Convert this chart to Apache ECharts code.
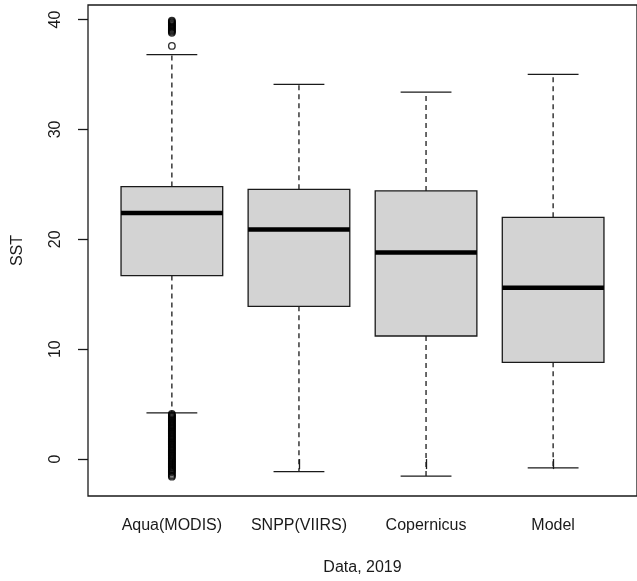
<!DOCTYPE html>
<html>
<head>
<meta charset="utf-8">
<script src="https://cdn.jsdelivr.net/npm/echarts@6/dist/echarts.min.js"></script>
<style>
  html, body { margin: 0; padding: 0; background: #fff; }
  #chart { width: 637px; height: 581px; }
</style>
</head>
<body>
<div id="chart"></div>
<script>
// box statistics
const categories = ['Aqua(MODIS)', 'SNPP(VIIRS)', 'Copernicus', 'Model'];
const lowerWhisker = [4.2, -1.15, -1.55, -0.8];
const q1 = [16.7, 13.9, 11.2, 8.8];
const median = [22.4, 20.9, 18.8, 15.6];
const q3 = [24.8, 24.55, 24.4, 22.0];
const upperWhisker = [36.8, 34.1, 33.4, 35.0];

// outliers (only Aqua has them) - the dense runs look like solid bars
const aquaHighOutliers = [37.6, 38.8, 38.9, 39.0, 39.1, 39.2, 39.3, 39.4, 39.5, 39.6, 39.7, 39.8, 39.9];
const aquaLowOutliers = [4.1, 4.0, 3.9, 3.8, 3.7, 3.6, 3.5, 3.4, 3.3, 3.2, 3.1, 3.0, 2.9, 2.8, 2.7, 2.6,
  2.5, 2.4, 2.3, 2.2, 2.1, 2.0, 1.9, 1.8, 1.7, 1.6, 1.5, 1.4, 1.3, 1.2, 1.1, 1.0, 0.9, 0.8, 0.7, 0.6,
  0.5, 0.4, 0.3, 0.2, 0.1, 0.0, -0.1, -0.2, -0.3, -0.4, -0.5, -0.6, -0.7, -0.8, -0.9, -1.0, -1.1,
  -1.2, -1.35, -1.5, -1.6];

const yTicks = [0, 10, 20, 30, 40];
const xTicks = [1, 2, 3, 4];

const FONT = "'Liberation Sans', Arial, sans-serif";

var boxData = categories.map(function (c, i) {
  return [i + 1, lowerWhisker[i], q1[i], median[i], q3[i], upperWhisker[i]];
});
var outlierData = aquaHighOutliers.concat(aquaLowOutliers).map(function (v) {
  return [1, v];
});

function renderBox(params, api) {
  var x = api.value(0);
  var half = api.size([0.4, 0])[0];
  var capHalf = api.size([0.2, 0])[0];
  var pLw = api.coord([x, api.value(1)]);
  var pQ1 = api.coord([x, api.value(2)]);
  var pMed = api.coord([x, api.value(3)]);
  var pQ3 = api.coord([x, api.value(4)]);
  var pUw = api.coord([x, api.value(5)]);
  var cx = pQ1[0];
  var dark = '#1a1a1a';
  return {
    type: 'group',
    children: [
      // whiskers (dashed)
      { type: 'line', shape: { x1: cx, y1: pQ3[1], x2: cx, y2: pUw[1] },
        style: { stroke: dark, lineWidth: 1.3, lineDash: [5, 4] } },
      { type: 'line', shape: { x1: cx, y1: pQ1[1], x2: cx, y2: pLw[1] },
        style: { stroke: dark, lineWidth: 1.3, lineDash: [5, 4] } },
      // staples
      { type: 'line', shape: { x1: cx - capHalf, y1: pUw[1], x2: cx + capHalf, y2: pUw[1] },
        style: { stroke: dark, lineWidth: 1.3 } },
      { type: 'line', shape: { x1: cx - capHalf, y1: pLw[1], x2: cx + capHalf, y2: pLw[1] },
        style: { stroke: dark, lineWidth: 1.3 } },
      // box
      { type: 'rect', shape: { x: cx - half, y: pQ3[1], width: half * 2, height: pQ1[1] - pQ3[1] },
        style: { fill: '#d3d3d3', stroke: dark, lineWidth: 1.3 } },
      // median
      { type: 'line', shape: { x1: cx - half, y1: pMed[1], x2: cx + half, y2: pMed[1] },
        style: { stroke: '#000', lineWidth: 4.5 } }
    ]
  };
}

var chart = echarts.init(document.getElementById('chart'), null, { renderer: 'canvas' });

chart.setOption({
  backgroundColor: '#fff',
  animation: false,
  grid: {
    left: 88, top: 5, right: -5, bottom: 84,
    show: true, borderColor: '#1a1a1a', borderWidth: 1.3, backgroundColor: 'transparent'
  },
  xAxis: {
    type: 'value',
    min: 0.34, max: 4.66,
    name: 'Data, 2019',
    nameLocation: 'middle',
    nameGap: 64,
    nameTextStyle: { fontFamily: FONT, fontSize: 16, color: '#1a1a1a' },
    axisLine: { show: false },
    splitLine: { show: false },
    axisTick: { show: true, length: 10, customValues: xTicks, lineStyle: { color: '#1a1a1a', width: 1.3 } },
    axisLabel: {
      customValues: xTicks,
      margin: 22,
      fontFamily: FONT, fontSize: 16, color: '#1a1a1a',
      formatter: function (v) { return categories[Math.round(v) - 1] || ''; }
    }
  },
  yAxis: {
    type: 'value',
    min: -3.36, max: 41.32,
    name: 'SST',
    nameLocation: 'middle',
    nameGap: 62,
    nameTextStyle: { fontFamily: FONT, fontSize: 16, color: '#1a1a1a' },
    axisLine: { show: false },
    splitLine: { show: false },
    axisTick: { show: true, length: 10, customValues: yTicks, lineStyle: { color: '#1a1a1a', width: 1.3 } },
    axisLabel: {
      customValues: yTicks,
      rotate: 90,
      margin: 24,
      fontFamily: FONT, fontSize: 16, color: '#1a1a1a'
    }
  },
  series: [
    {
      type: 'custom',
      renderItem: renderBox,
      data: boxData,
      encode: { x: 0, y: [1, 2, 3, 4, 5] },
      clip: true
    },
    {
      type: 'scatter',
      data: outlierData,
      symbol: 'circle',
      symbolSize: 6.5,
      itemStyle: { color: 'transparent', borderColor: '#000', borderWidth: 1.4 }
    }
  ]
});
</script>
</body>
</html>
